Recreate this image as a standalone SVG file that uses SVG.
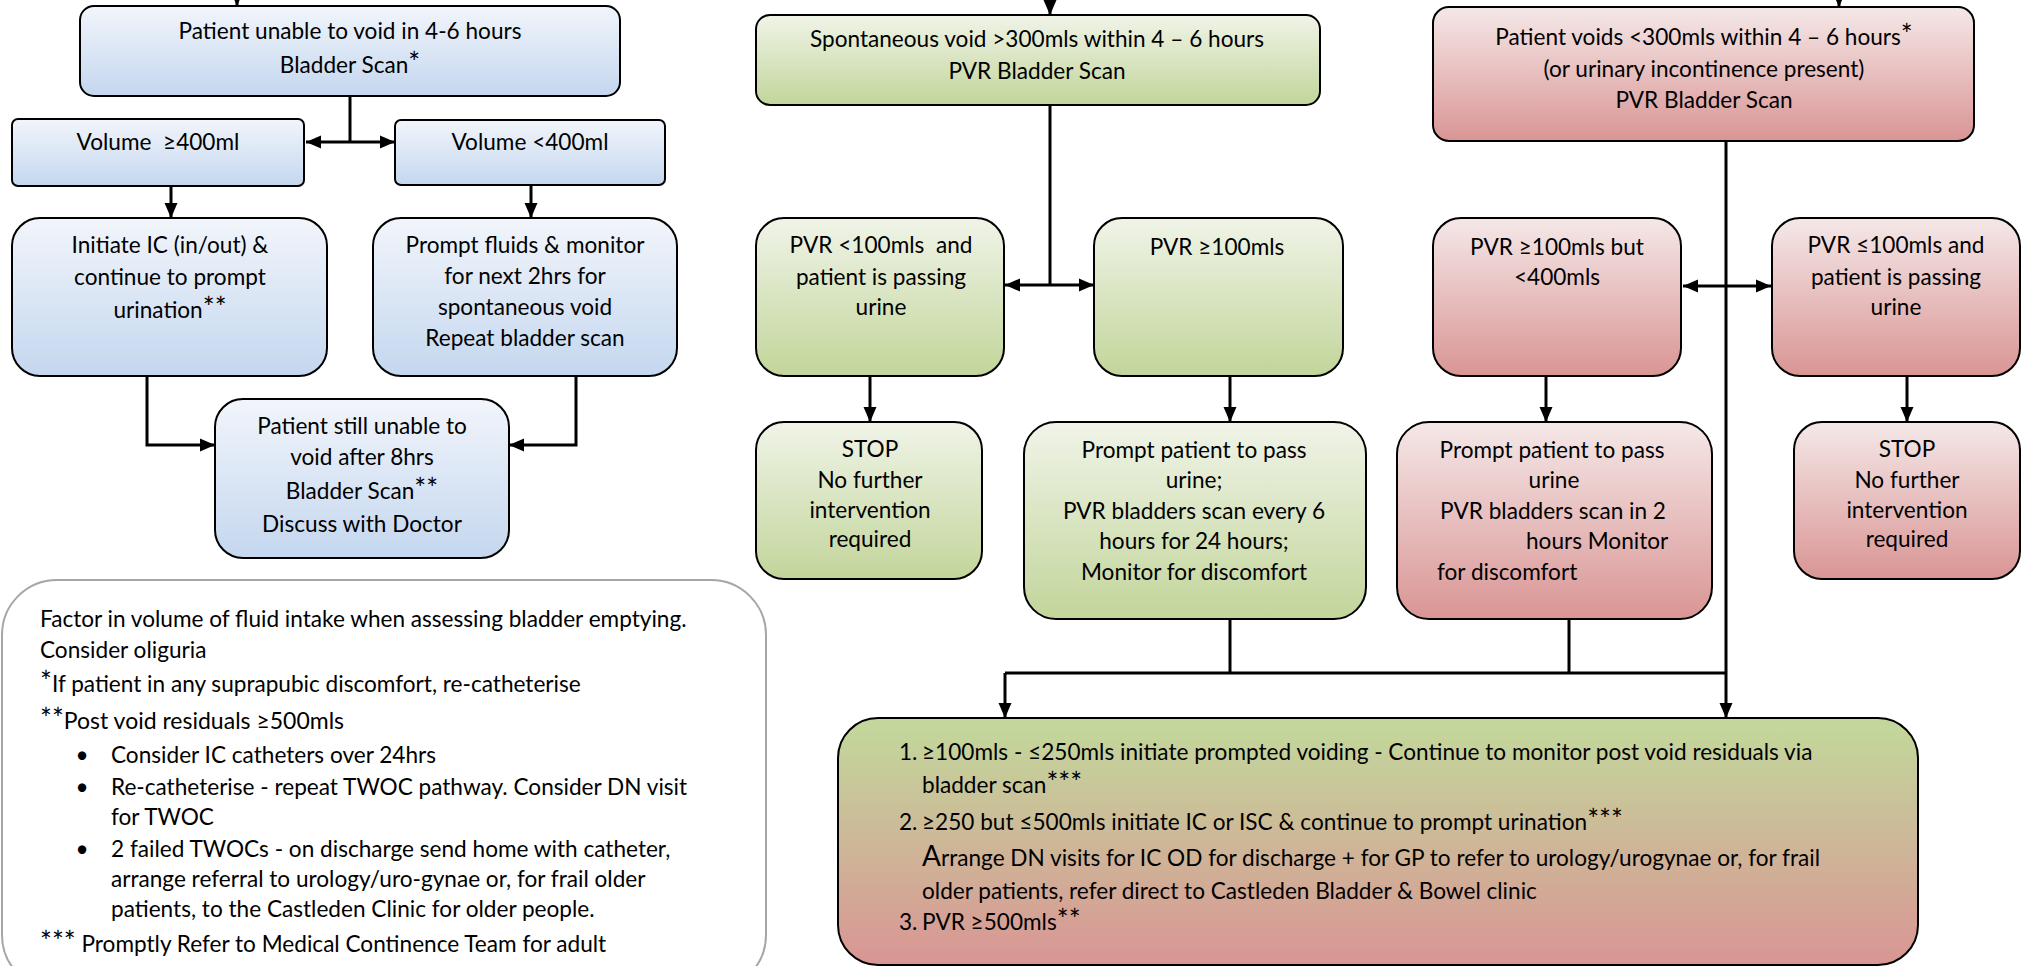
<svg xmlns="http://www.w3.org/2000/svg" width="2032" height="966" viewBox="0 0 2032 966">
<style>
.t{font-family:Lato,"Liberation Sans",sans-serif;font-size:22.6px;fill:#000}
.c{text-anchor:middle}
.s{font-size:28px}
.sm{font-size:23px}
.box{stroke:#000;stroke-width:2}
.conn{fill:none;stroke:#000;stroke-width:3}
.ar{marker-end:url(#ah)}
.ar2{marker-start:url(#ah);marker-end:url(#ah)}
</style>
<defs>
<linearGradient id="gb" x1="0" y1="0" x2="0" y2="1"><stop offset="0" stop-color="#f2f5fb"/><stop offset="1" stop-color="#c4d7ef"/></linearGradient>
<linearGradient id="gg" x1="0" y1="0" x2="0" y2="1"><stop offset="0" stop-color="#f0f4e8"/><stop offset="1" stop-color="#c2d59a"/></linearGradient>
<linearGradient id="gp" x1="0" y1="0" x2="0" y2="1"><stop offset="0" stop-color="#f5e8e8"/><stop offset="1" stop-color="#d99594"/></linearGradient>
<linearGradient id="gm" x1="0" y1="0" x2="0" y2="1"><stop offset="0.05" stop-color="#c3d69b"/><stop offset="1" stop-color="#d99594"/></linearGradient>
<marker id="ah" markerUnits="userSpaceOnUse" markerWidth="16" markerHeight="16" viewBox="0 0 16 16" refX="15" refY="8" orient="auto-start-reverse"><path d="M0,1.5 L15,8 L0,14.5 Z" fill="#000"/></marker>
</defs>

<g id="connectors">
<path class="conn ar" d="M237,-10 V6"/>
<path class="conn ar" d="M1050,-10 V15"/>
<path class="conn ar" d="M1839,-10 V7"/>
<path class="conn" d="M350,96 V142"/>
<path class="conn ar2" d="M306,142 H395"/>
<path class="conn ar" d="M171,186 V218"/>
<path class="conn ar" d="M531,185 V218"/>
<path class="conn ar" d="M147,376 V445 H215"/>
<path class="conn ar" d="M576,376 V445 H509"/>
<path class="conn" d="M1050,105 V285"/>
<path class="conn ar2" d="M1005,285 H1094"/>
<path class="conn ar" d="M870,376 V422"/>
<path class="conn ar" d="M1230,376 V422"/>
<path class="conn" d="M1230,619 V673"/>
<path class="conn" d="M1005,673 H1726"/>
<path class="conn ar" d="M1005,673 V718"/>
<path class="conn ar" d="M1726,141 V718"/>
<path class="conn ar2" d="M1683,286 H1771"/>
<path class="conn ar" d="M1546,376 V422"/>
<path class="conn ar" d="M1907,376 V422"/>
<path class="conn" d="M1569,619 V673"/>
</g>

<g id="n1"><rect class="box" x="80" y="6" width="540" height="90" rx="14" fill="url(#gb)"/>
<text class="t c" x="350" y="39">Patient unable to void in 4-6 hours</text>
<text class="t c" x="350" y="73">Bladder Scan<tspan class="s">*</tspan></text></g>

<g id="n2"><rect class="box" x="12" y="119" width="292" height="67" rx="6" fill="url(#gb)"/>
<text class="t c" x="158" y="150">Volume&#160; ≥400ml</text></g>

<g id="n3"><rect class="box" x="395" y="120" width="270" height="65" rx="6" fill="url(#gb)"/>
<text class="t c" x="530" y="150">Volume &lt;400ml</text></g>

<g id="n4"><rect class="box" x="12" y="218" width="315" height="158" rx="28" fill="url(#gb)"/>
<text class="t c" x="170" y="253">Initiate IC (in/out) &amp;</text>
<text class="t c" x="170" y="285">continue to prompt</text>
<text class="t c" x="170" y="318">urination<tspan class="s">**</tspan></text></g>

<g id="n5"><rect class="box" x="373" y="218" width="304" height="158" rx="28" fill="url(#gb)"/>
<text class="t c" x="525" y="253">Prompt fluids &amp; monitor</text>
<text class="t c" x="525" y="284">for next 2hrs for</text>
<text class="t c" x="525" y="315">spontaneous void</text>
<text class="t c" x="525" y="346">Repeat bladder scan</text></g>

<g id="n6"><rect class="box" x="215" y="399" width="294" height="159" rx="28" fill="url(#gb)"/>
<text class="t c" x="362" y="434">Patient still unable to</text>
<text class="t c" x="362" y="465">void after 8hrs</text>
<text class="t c" x="362" y="499">Bladder Scan<tspan class="s">**</tspan></text>
<text class="t c" x="362" y="532">Discuss with Doctor</text></g>

<g id="note"><rect x="2" y="580" width="764" height="410" rx="55" fill="#fff" stroke="#a6a6a6" stroke-width="2"/>
<text class="t" x="40" y="627">Factor in volume of fluid intake when assessing bladder emptying.</text>
<text class="t" x="40" y="658">Consider oliguria</text>
<text class="t" x="40" y="692"><tspan class="s">*</tspan>If patient in any suprapubic discomfort, re-catheterise</text>
<text class="t" x="40" y="729"><tspan class="s">**</tspan><tspan class="sm">Post void residuals ≥500mls</tspan></text>
<text class="t c" x="82" y="763">•</text><text class="t" x="111" y="763">Consider IC catheters over 24hrs</text>
<text class="t c" x="82" y="795">•</text><text class="t" x="111" y="795">Re-catheterise - repeat TWOC pathway. Consider DN visit</text>
<text class="t" x="111" y="825">for TWOC</text>
<text class="t c" x="82" y="857">•</text><text class="t" x="111" y="857">2 failed TWOCs - on discharge send home with catheter,</text>
<text class="t" x="111" y="887">arrange referral to urology/uro-gynae or, for frail older</text>
<text class="t" x="111" y="917">patients, to the Castleden Clinic for older people.</text>
<text class="t" x="40" y="952"><tspan class="s">***</tspan> Promptly Refer to Medical Continence Team for adult</text></g>

<g id="g1"><rect class="box" x="756" y="15" width="564" height="90" rx="14" fill="url(#gg)"/>
<text class="t c" x="1037" y="47">Spontaneous void &gt;300mls within 4 – 6 hours</text>
<text class="t c" x="1037" y="79">PVR Bladder Scan</text></g>

<g id="g2"><rect class="box" x="756" y="218" width="248" height="158" rx="28" fill="url(#gg)"/>
<text class="t c" x="881" y="253">PVR &lt;100mls&#160; and</text>
<text class="t c" x="881" y="285">patient is passing</text>
<text class="t c" x="881" y="315">urine</text></g>

<g id="g3"><rect class="box" x="1094" y="218" width="249" height="158" rx="28" fill="url(#gg)"/>
<text class="t c" x="1217" y="255">PVR ≥100mls</text></g>

<g id="g4"><rect class="box" x="756" y="422" width="226" height="157" rx="28" fill="url(#gg)"/>
<text class="t c" x="870" y="457">STOP</text>
<text class="t c" x="870" y="488">No further</text>
<text class="t c" x="870" y="518">intervention</text>
<text class="t c" x="870" y="547">required</text></g>

<g id="g5"><rect class="box" x="1024" y="422" width="342" height="197" rx="32" fill="url(#gg)"/>
<text class="t c" x="1194" y="458">Prompt patient to pass</text>
<text class="t c" x="1194" y="488">urine;</text>
<text class="t c" x="1194" y="519">PVR bladders scan every 6</text>
<text class="t c" x="1194" y="549">hours for 24 hours;</text>
<text class="t c" x="1194" y="580">Monitor for discomfort</text></g>

<g id="p1"><rect class="box" x="1433" y="7" width="541" height="134" rx="16" fill="url(#gp)"/>
<text class="t c" x="1704" y="45">Patient voids &lt;300mls within 4 – 6 hours<tspan class="s">*</tspan></text>
<text class="t c" x="1704" y="77">(or urinary incontinence present)</text>
<text class="t c" x="1704" y="108">PVR Bladder Scan</text></g>

<g id="p2"><rect class="box" x="1433" y="218" width="248" height="158" rx="28" fill="url(#gp)"/>
<text class="t c" x="1557" y="255">PVR ≥100mls but</text>
<text class="t c" x="1557" y="285">&lt;400mls</text></g>

<g id="p3"><rect class="box" x="1772" y="218" width="248" height="158" rx="28" fill="url(#gp)"/>
<text class="t c" x="1896" y="253">PVR ≤100mls and</text>
<text class="t c" x="1896" y="285">patient is passing</text>
<text class="t c" x="1896" y="315">urine</text></g>

<g id="p4"><rect class="box" x="1397" y="422" width="315" height="197" rx="32" fill="url(#gp)"/>
<text class="t c" x="1552" y="458">Prompt patient to pass</text>
<text class="t c" x="1554" y="488">urine</text>
<text class="t c" x="1553" y="519">PVR bladders scan in 2</text>
<text class="t" x="1526" y="549">hours Monitor</text>
<text class="t" x="1437" y="580">for discomfort</text></g>

<g id="p5"><rect class="box" x="1794" y="422" width="226" height="157" rx="28" fill="url(#gp)"/>
<text class="t c" x="1907" y="457">STOP</text>
<text class="t c" x="1907" y="488">No further</text>
<text class="t c" x="1907" y="518">intervention</text>
<text class="t c" x="1907" y="547">required</text></g>

<g id="m1"><rect class="box" x="838" y="718" width="1080" height="247" rx="40" fill="url(#gm)"/>
<text class="t" x="899" y="760">1.</text><text class="t" x="922" y="760">≥100mls - ≤250mls initiate prompted voiding - Continue to monitor post void residuals via</text>
<text class="t" x="922" y="793">bladder scan<tspan class="s">***</tspan></text>
<text class="t" x="899" y="830">2.</text><text class="t" x="922" y="830">≥250 but ≤500mls initiate IC or ISC &amp; continue to prompt urination<tspan class="s">***</tspan></text>
<text class="t" x="922" y="866"><tspan class="s">A</tspan>rrange DN visits for IC OD for discharge + for GP to refer to urology/urogynae or, for frail</text>
<text class="t" x="922" y="899">older patients, refer direct to Castleden Bladder &amp; Bowel clinic</text>
<text class="t" x="899" y="930">3.</text><text class="t" x="922" y="930">PVR ≥500mls<tspan class="s">**</tspan></text></g>
</svg>
